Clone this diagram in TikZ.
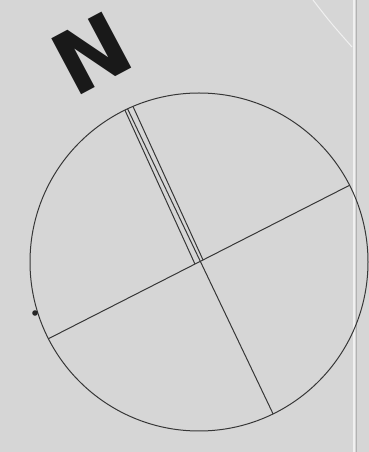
\documentclass[tikz,border=0pt]{standalone}
\usepackage{fontspec}
\newfontfamily\markerfont{DejaVu Sans}
\usetikzlibrary{calc}
\definecolor{paperc}{RGB}{214,214,214}
\definecolor{inkc}{RGB}{55,55,55}
\definecolor{edgec}{RGB}{240,240,240}
\tikzset{
  rimline/.style={draw=inkc, circle, line width=1pt, inner sep=0pt, outer sep=0pt},
  axis/.style={inkc, line width=1pt},
  north/.style={font=\markerfont\bfseries\fontsize{87}{87}\selectfont, text=black!90, inner sep=0pt, rotate=28}
}

\begin{document}
\begin{tikzpicture}[x=1pt, y=1pt]
  % ---- sheet ----
  \fill[paperc] (0,0) rectangle (369,452);
  \useasboundingbox (0,0) rectangle (369,452);
  \draw[edgec, line width=1.5pt] (354,0) -- (354,452);
  \draw[black!30, line width=0.6pt] (356,0) -- (356,452);
  \draw[edgec, line width=1pt] (313,452) .. controls (330,430) .. (352,405);

  % ---- disc ----
  \coordinate (c) at (199,190);
  \node[rimline, minimum size=338pt] (rim) at (c) {};
  \node[north] (n) at (92,399) {N};

  % axes
  \draw[axis] (rim.115.2) -- (rim.-64);
  \draw[axis] (rim.207) -- (rim.27);
  \draw[axis] (rim.116.7) -- ($(c)+(-4.1,-1.9)$);
  \draw[axis] (rim.113.7) -- ($(c)+(4.1,1.9)$);

  % spot
  \fill[black!85] (35,139) circle (2.8);
\end{tikzpicture}
\end{document}
